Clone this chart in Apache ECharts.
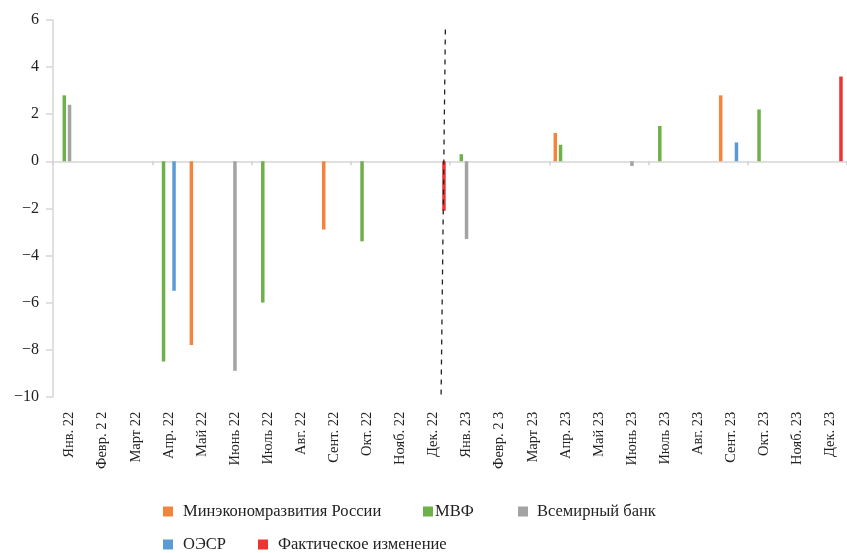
<!DOCTYPE html>
<html>
<head>
<meta charset="utf-8">
<script src="https://cdn.jsdelivr.net/npm/echarts@6/dist/echarts.min.js"></script>
<style>
  html, body { margin: 0; padding: 0; background: #fff; }
  #chart { width: 847px; height: 553px; }
</style>
</head>
<body>
<div id="chart"></div>
<script>
// Months of 2022–2023
const months = [
  'Янв. 22', 'Февр. 2 2', 'Март 22', 'Апр. 22', 'Май 22', 'Июнь 22',
  'Июль 22', 'Авг. 22', 'Сент. 22', 'Окт. 22', 'Нояб. 22', 'Дек. 22',
  'Янв. 23', 'Февр. 2 3', 'Март 23', 'Апр. 23', 'Май 23', 'Июнь 23',
  'Июль 23', 'Авг. 23', 'Сент. 23', 'Окт. 23', 'Нояб. 23', 'Дек. 23'
];

// Forecast values by source (null = no forecast published that month)
const mineconom = [null, null, null, null, -7.8, null, null, null, -2.9, null, null, null,
                   null, null, null, 1.2, null, null, null, null, 2.8, null, null, null];
const imf       = [2.8, null, null, -8.5, null, null, -6.0, null, null, -3.4, null, null,
                   0.3, null, null, 0.7, null, null, 1.5, null, null, 2.2, null, null];
const worldBank = [2.4, null, null, null, null, -8.9, null, null, null, null, null, null,
                   -3.3, null, null, null, null, -0.2, null, null, null, null, null, null];
const oecd      = [null, null, null, -5.5, null, null, null, null, null, null, null, null,
                   null, null, null, null, null, null, null, null, 0.8, null, null, null];
const actual    = [null, null, null, null, null, null, null, null, null, null, null, -2.1,
                   null, null, null, null, null, null, null, null, null, null, null, 3.6];

// Divider between 2022 and 2023 (position on a 0..24 month scale, value)
const dividerPoints = [[11.86, 5.6], [11.73, -10]];

const seriesNames = ['Минэкономразвития России', 'МВФ', 'Всемирный банк', 'ОЭСР', 'Фактическое изменение'];
const seriesData = [mineconom, imf, worldBank, oecd, actual];
const colors = ['#F4843D', '#6DB14A', '#A3A3A3', '#5A9BD5', '#EE3333'];

const serif = 'Liberation Serif, Times New Roman, serif';
const axisGray = '#d6d6d6';

const chart = echarts.init(document.getElementById('chart'), null, { renderer: 'canvas' });

const bars = seriesNames.map((name, i) => ({
  name: name,
  type: 'bar',
  xAxisIndex: 0,
  data: seriesData[i],
  barWidth: 3.5,
  barGap: '50%',
  itemStyle: { color: colors[i] },
  silent: true
}));

// One legend block per entry so each sits in its own spot
const legendSpots = [
  { left: 163, top: 503, gap: 10 },
  { left: 423, top: 503, gap: 2 },
  { left: 518, top: 503, gap: 9 },
  { left: 163, top: 536, gap: 10 },
  { left: 258, top: 536, gap: 10 }
];
const legends = seriesNames.map((name, i) => ({
  data: [name],
  left: legendSpots[i].left,
  top: legendSpots[i].top,
  orient: 'horizontal',
  icon: 'rect',
  itemWidth: 10,
  itemHeight: 10,
  padding: 0,
  selectedMode: false,
  textStyle: {
    fontFamily: serif,
    fontSize: 16.5,
    color: '#222',
    padding: [0, 0, 0, legendSpots[i].gap - 5]
  }
}));

chart.setOption({
  animation: false,
  backgroundColor: '#fff',
  color: colors,
  legend: legends,
  grid: { left: 53, top: 20, width: 795, height: 376.7, containLabel: false },
  xAxis: [
    {
      type: 'category',
      data: months,
      boundaryGap: true,
      axisLine: { onZero: true, lineStyle: { color: axisGray, width: 1.5 } },
      axisTick: { show: true, length: 4, lineStyle: { color: '#cfcfcf', width: 1.5 } },
      axisLabel: { show: false },
      splitLine: { show: false }
    },
    {
      type: 'category',
      data: months,
      position: 'bottom',
      boundaryGap: true,
      axisLine: { show: false, onZero: false },
      axisTick: { show: false },
      axisLabel: {
        rotate: 90,
        margin: 15,
        interval: 0,
        fontFamily: serif,
        fontSize: 14.5,
        color: '#222'
      },
      splitLine: { show: false }
    },
    {
      type: 'value',
      min: 0,
      max: 24,
      show: false
    }
  ],
  yAxis: {
    type: 'value',
    min: -10,
    max: 6,
    interval: 2,
    axisLine: { show: true, lineStyle: { color: axisGray, width: 1.5 } },
    axisTick: { show: true, length: 7, lineStyle: { color: axisGray, width: 1.5 } },
    splitLine: { show: false },
    axisLabel: {
      margin: 14,
      fontFamily: serif,
      fontSize: 16,
      color: '#222',
      formatter: v => String(v).replace('-', '−')
    }
  },
  series: bars.concat([{
    name: 'divider',
    type: 'line',
    xAxisIndex: 2,
    data: dividerPoints,
    symbol: 'none',
    silent: true,
    lineStyle: { color: '#222', width: 1.3, type: [5, 5] },
    z: 5
  }])
});
</script>
</body>
</html>
